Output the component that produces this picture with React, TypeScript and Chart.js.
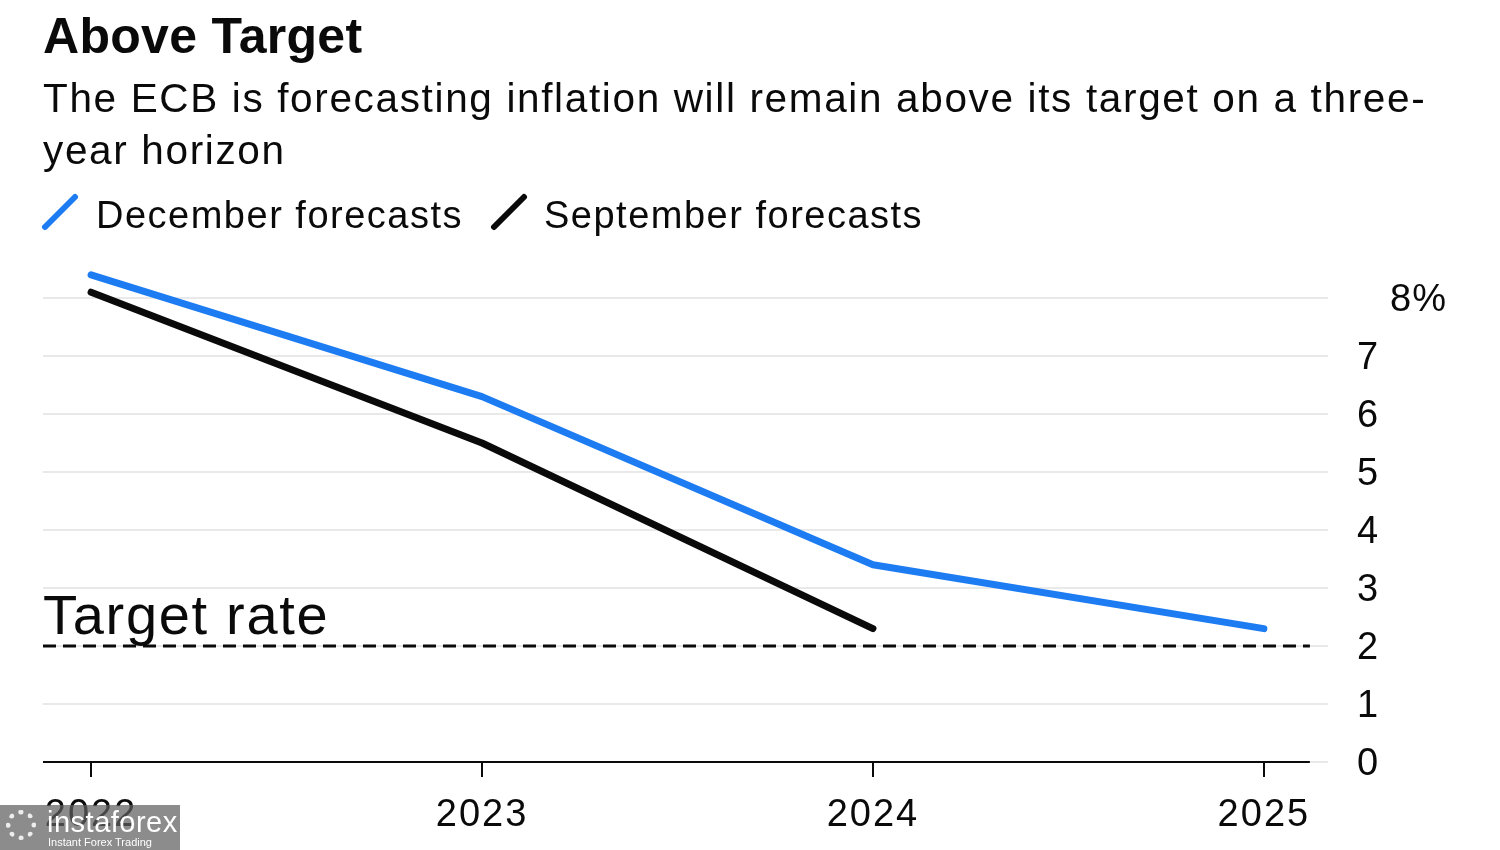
import React, { useEffect, useRef } from "react";
import { Chart, registerables } from "chart.js";

Chart.register(...registerables);

// ---- data ----
const years = [2022, 2023, 2024, 2025];
const decemberForecasts = [8.4, 6.3, 3.4, 2.3];
const septemberForecasts = [8.1, 5.5, 2.3];
const yTickValues = [0, 1, 2, 3, 4, 5, 6, 7, 8];
const yTickLabels = ["0", "1", "2", "3", "4", "5", "6", "7", "8%"];
const targetRate = 2;
const seriesNames = ["December forecasts", "September forecasts"];
const titleText = "Above Target";
const subtitleLines = [
  "The ECB is forecasting inflation will remain above its target on a three-",
  "year horizon",
];
const targetLabel = "Target rate";

const BLUE = "#1d7cf2";
const BLACK = "#0a0a0a";
const GRID = "#e9e9e9";
const FONT = '"Liberation Sans", Arial, Helvetica, sans-serif';

export default function App() {
  const ref = useRef<HTMLCanvasElement>(null);

  useEffect(() => {
    const canvas = ref.current;
    if (!canvas) return;

    const overlay = {
      id: "overlay",
      beforeDraw(chart: any) {
        chart.ctx.letterSpacing = "2px";
      },
      beforeDatasetsDraw(chart: any) {
        const { ctx, chartArea, scales } = chart;
        const xs = scales.x;
        const ys = scales.y;
        const endX = xs.getPixelForValue(years[years.length - 1]) + 46;
        ctx.save();
        // x axis line
        const y0 = ys.getPixelForValue(0);
        ctx.strokeStyle = BLACK;
        ctx.lineWidth = 2;
        ctx.beginPath();
        ctx.moveTo(chartArea.left, y0);
        ctx.lineTo(endX, y0);
        ctx.stroke();
        // target dashed line
        const yt = ys.getPixelForValue(targetRate);
        ctx.lineWidth = 3;
        ctx.setLineDash([13, 7]);
        ctx.beginPath();
        ctx.moveTo(chartArea.left, yt);
        ctx.lineTo(endX, yt);
        ctx.stroke();
        ctx.setLineDash([]);
        // target label
        ctx.letterSpacing = "1.7px";
        ctx.fillStyle = BLACK;
        ctx.font = `56px ${FONT}`;
        ctx.textAlign = "left";
        ctx.textBaseline = "alphabetic";
        ctx.fillText(targetLabel, chartArea.left, yt - 12);
        // top y label (offset to the right like the reference)
        ctx.letterSpacing = "1px";
        ctx.font = `38px ${FONT}`;
        ctx.textBaseline = "middle";
        const topV = yTickValues[yTickValues.length - 1];
        ctx.fillText(
          yTickLabels[yTickLabels.length - 1],
          chartArea.right + 62,
          ys.getPixelForValue(topV) + 3
        );
        ctx.restore();
      },
    };

    const chart = new Chart(canvas, {
      type: "line",
      data: {
        datasets: [
          {
            label: seriesNames[0],
            data: decemberForecasts.map((v, i) => ({ x: years[i], y: v })),
            borderColor: BLUE,
            backgroundColor: BLUE,
            borderWidth: 7,
            borderCapStyle: "round",
            borderJoinStyle: "round",
            pointRadius: 0,
            tension: 0,
          },
          {
            label: seriesNames[1],
            data: septemberForecasts.map((v, i) => ({ x: years[i], y: v })),
            borderColor: BLACK,
            backgroundColor: BLACK,
            borderWidth: 7,
            borderCapStyle: "round",
            borderJoinStyle: "round",
            pointRadius: 0,
            tension: 0,
          },
        ],
      },
      options: {
        responsive: false,
        animation: false,
        devicePixelRatio: 1,
        layout: { padding: { top: 269, left: 43, right: 0, bottom: 0 } },
        plugins: {
          legend: { display: false },
          title: { display: false },
          tooltip: { enabled: false },
        },
        elements: { line: { clip: false } as any },
        scales: {
          x: {
            type: "linear",
            position: "bottom",
            min: 2021.877,
            max: 2025.164,
            afterBuildTicks: (s: any) => {
              s.ticks = years.map((v) => ({ value: v }));
            },
            afterFit: (s: any) => {
              s.height = 88;
              s.paddingLeft = 0;
              s.paddingRight = 0;
            },
            border: { display: false },
            grid: {
              drawOnChartArea: false,
              drawTicks: true,
              tickLength: 15,
              color: BLACK,
              lineWidth: 2,
            },
            ticks: {
              padding: 16,
              color: BLACK,
              font: { family: FONT, size: 38 },
              maxRotation: 0,
              autoSkip: false,
              callback: (v: any) => String(v),
            },
          },
          y: {
            type: "linear",
            position: "right",
            min: 0,
            max: 8.5,
            afterBuildTicks: (s: any) => {
              s.ticks = yTickValues.map((v) => ({ value: v }));
            },
            afterFit: (s: any) => {
              s.width = 172;
              s.paddingTop = 0;
              s.paddingBottom = 0;
            },
            border: { display: false },
            grid: {
              drawTicks: false,
              color: GRID,
              lineWidth: 2,
            },
            ticks: {
              padding: 29,
              labelOffset: 3,
              color: BLACK,
              font: { family: FONT, size: 38 },
              callback: (v: any) => {
                const i = yTickValues.indexOf(Number(v));
                if (i === yTickValues.length - 1) return "";
                return i >= 0 ? yTickLabels[i] : "";
              },
            },
          },
        },
      } as any,
      plugins: [overlay],
    });

    return () => chart.destroy();
  }, []);

  const slash = (color: string) => (
    <svg width="40" height="40" style={{ display: "block" }}>
      <line x1="4" y1="35" x2="34" y2="5" stroke={color} strokeWidth="6" strokeLinecap="round" />
    </svg>
  );

  return (
    <div
      style={{
        position: "absolute",
        left: 0,
        top: 0,
        width: 1500,
        height: 850,
        background: "#ffffff",
        overflow: "hidden",
        fontFamily: FONT,
        color: BLACK,
      }}
    >
      <canvas
        ref={ref}
        width={1500}
        height={850}
        style={{ position: "absolute", left: 0, top: 0, width: 1500, height: 850 }}
      />
      <div
        style={{
          position: "absolute",
          left: 43,
          top: 11,
          fontSize: 50,
          lineHeight: "50px",
          letterSpacing: "0.3px",
          fontWeight: 700,
          whiteSpace: "nowrap",
        }}
      >
        {titleText}
      </div>
      <div
        style={{
          position: "absolute",
          left: 43,
          top: 72,
          fontSize: 40.5,
          lineHeight: "52px",
          letterSpacing: "1.65px",
          whiteSpace: "nowrap",
        }}
      >
        {subtitleLines.map((l, i) => (
          <div key={i}>{l}</div>
        ))}
      </div>
      <div style={{ position: "absolute", left: 41, top: 192 }}>{slash(BLUE)}</div>
      <div
        style={{
          position: "absolute",
          left: 96,
          top: 195.8,
          fontSize: 38,
          lineHeight: "38px",
          letterSpacing: "1.5px",
          whiteSpace: "nowrap",
        }}
      >
        {seriesNames[0]}
      </div>
      <div style={{ position: "absolute", left: 490, top: 192 }}>{slash(BLACK)}</div>
      <div
        style={{
          position: "absolute",
          left: 544,
          top: 195.8,
          fontSize: 38,
          lineHeight: "38px",
          letterSpacing: "1.5px",
          whiteSpace: "nowrap",
        }}
      >
        {seriesNames[1]}
      </div>
      <div
        style={{
          position: "absolute",
          left: 0,
          top: 805,
          width: 180,
          height: 45,
          background: "rgba(95,95,95,0.72)",
          color: "#ffffff",
        }}
      >
        <div
          style={{
            position: "absolute",
            left: 6,
            top: 5,
            width: 30,
            height: 30,
            borderRadius: 15,
            border: "5px dotted rgba(255,255,255,0.85)",
            boxSizing: "border-box",
          }}
        />
        <div style={{ position: "absolute", left: 47, top: 2, fontSize: 29, lineHeight: "30px", letterSpacing: "0.5px" }}>
          instaforex
        </div>
        <div style={{ position: "absolute", left: 48, top: 31, fontSize: 11, lineHeight: "12px" }}>
          Instant Forex Trading
        </div>
      </div>
    </div>
  );
}
